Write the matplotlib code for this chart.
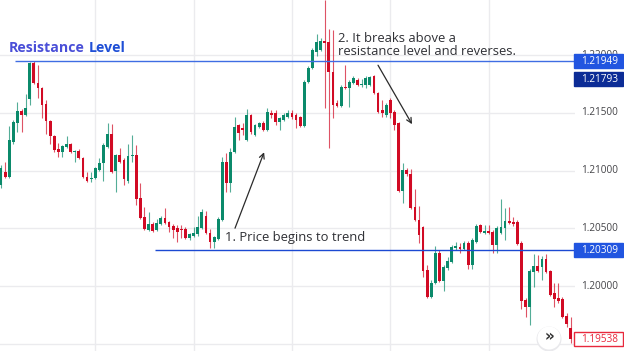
import matplotlib
matplotlib.use("Agg")
import matplotlib.pyplot as plt
from matplotlib.patches import Rectangle, Ellipse


# ============================================================
# Data
# ============================================================

OPEN = [
    1.20873, 1.20986, 1.20943, 1.21246, 1.21411, 1.21515, 1.21480, 1.21619, 1.21935, 1.21757,
    1.21714, 1.21575, 1.21428, 1.21298, 1.21185, 1.21159, 1.21203, 1.21229, 1.21159, 1.21168,
    1.21107, 1.20943, 1.20925, 1.20934, 1.21003, 1.21064, 1.21203, 1.21315, 1.20995, 1.21133,
    1.21090, 1.20908, 1.21125, 1.21133, 1.20761, 1.20596, 1.20483, 1.20535, 1.20483, 1.20535,
    1.20587, 1.20553, 1.20518, 1.20501, 1.20492, 1.20492, 1.20414, 1.20431, 1.20449, 1.20501,
    1.20605, 1.20457, 1.20379, 1.20405, 1.20570, 1.21073, 1.20891, 1.21159, 1.21393, 1.21367,
    1.21263, 1.21480, 1.21307, 1.21376, 1.21411, 1.21350, 1.21497, 1.21497, 1.21419, 1.21437,
    1.21463, 1.21497, 1.21480, 1.21463, 1.21385, 1.21766, 1.21887, 1.22026, 1.22043, 1.22121,
    1.22113, 1.21853, 1.21584, 1.21558, 1.21723, 1.21714, 1.21757, 1.21783, 1.21740, 1.21740,
    1.21740, 1.21818, 1.21671, 1.21523, 1.21480, 1.21610, 1.21506, 1.21411, 1.20821, 1.21003,
    1.20969, 1.20683, 1.20570, 1.20509, 1.20137, 1.19903, 1.20024, 1.20284, 1.20041, 1.20154,
    1.20206, 1.20327, 1.20336, 1.20319, 1.20371, 1.20180, 1.20379, 1.20527, 1.20457, 1.20475,
    1.20466, 1.20353, 1.20457, 1.20501, 1.20561, 1.20553, 1.20553, 1.20371, 1.19877, 1.19816,
    1.20119, 1.20171, 1.20163, 1.20232, 1.20128, 1.19937, 1.19894, 1.19885, 1.19738, 1.19634,
]
HIGH = [
    1.21047, 1.21073, 1.21385, 1.21437, 1.21593, 1.21532, 1.21662, 1.21945, 1.21949, 1.21913,
    1.21723, 1.21610, 1.21437, 1.21307, 1.21237, 1.21220, 1.21298, 1.21237, 1.21177, 1.21185,
    1.21116, 1.20986, 1.20986, 1.21029, 1.21107, 1.21237, 1.21411, 1.21402, 1.21142, 1.21194,
    1.21107, 1.21229, 1.21307, 1.21220, 1.20891, 1.20683, 1.20639, 1.20553, 1.20579, 1.20605,
    1.20674, 1.20561, 1.20535, 1.20527, 1.20527, 1.20509, 1.20457, 1.20509, 1.20605, 1.20665,
    1.20648, 1.20492, 1.20431, 1.20596, 1.21116, 1.21151, 1.21194, 1.21463, 1.21402, 1.21411,
    1.21532, 1.21489, 1.21402, 1.21419, 1.21428, 1.21541, 1.21523, 1.21523, 1.21463, 1.21497,
    1.21523, 1.21523, 1.21497, 1.21471, 1.21783, 1.21905, 1.22061, 1.22182, 1.22147, 1.22480,
    1.22225, 1.22216, 1.21610, 1.21740, 1.21913, 1.21783, 1.21818, 1.21801, 1.21792, 1.21818,
    1.21818, 1.21827, 1.21679, 1.21610, 1.21584, 1.21627, 1.21523, 1.21419, 1.21064, 1.21021,
    1.21012, 1.20839, 1.20691, 1.20518, 1.20180, 1.20050, 1.20345, 1.20310, 1.20180, 1.20249,
    1.20353, 1.20379, 1.20371, 1.20388, 1.20388, 1.20414, 1.20535, 1.20535, 1.20527, 1.20527,
    1.20483, 1.20518, 1.20752, 1.20674, 1.20683, 1.20596, 1.20570, 1.20388, 1.19894, 1.20145,
    1.20275, 1.20267, 1.20258, 1.20275, 1.20137, 1.20024, 1.20024, 1.19903, 1.19764, 1.19729,
]
LOW = [
    1.20847, 1.20934, 1.20934, 1.21229, 1.21333, 1.21333, 1.21471, 1.21567, 1.21749, 1.21627,
    1.21454, 1.21315, 1.21229, 1.21159, 1.21116, 1.21116, 1.21194, 1.21151, 1.21073, 1.21099,
    1.20934, 1.20899, 1.20899, 1.20925, 1.20995, 1.20908, 1.21194, 1.20977, 1.20813, 1.21064,
    1.20873, 1.20891, 1.21073, 1.20700, 1.20579, 1.20483, 1.20475, 1.20466, 1.20475, 1.20527,
    1.20535, 1.20466, 1.20414, 1.20379, 1.20414, 1.20405, 1.20397, 1.20423, 1.20431, 1.20492,
    1.20449, 1.20327, 1.20327, 1.20397, 1.20561, 1.20813, 1.20813, 1.21151, 1.21263, 1.21307,
    1.21255, 1.21315, 1.21298, 1.21367, 1.21341, 1.21341, 1.21454, 1.21393, 1.21350, 1.21428,
    1.21454, 1.21445, 1.21367, 1.21376, 1.21376, 1.21757, 1.21879, 1.21991, 1.22035, 1.21541,
    1.21194, 1.21454, 1.21549, 1.21549, 1.21705, 1.21549, 1.21749, 1.21731, 1.21723, 1.21714,
    1.21731, 1.21662, 1.21497, 1.21463, 1.21463, 1.21454, 1.21350, 1.20813, 1.20717, 1.20951,
    1.20665, 1.20561, 1.20371, 1.20076, 1.19894, 1.19894, 1.20015, 1.20033, 1.19955, 1.20137,
    1.20197, 1.20310, 1.20284, 1.20310, 1.20145, 1.20145, 1.20371, 1.20457, 1.20449, 1.20449,
    1.20284, 1.20284, 1.20449, 1.20397, 1.20535, 1.20518, 1.20353, 1.19799, 1.19729, 1.19660,
    1.19989, 1.20119, 1.20050, 1.20111, 1.19911, 1.19816, 1.19851, 1.19721, 1.19643, 1.19504,
]
CLOSE = [
    1.21021, 1.20943, 1.21263, 1.21419, 1.21515, 1.21480, 1.21541, 1.21930, 1.21757, 1.21714,
    1.21567, 1.21428, 1.21298, 1.21177, 1.21159, 1.21211, 1.21229, 1.21159, 1.21168, 1.21107,
    1.20943, 1.20908, 1.20934, 1.21021, 1.21064, 1.21220, 1.21315, 1.20986, 1.21133, 1.21073,
    1.20925, 1.21125, 1.21133, 1.20752, 1.20587, 1.20492, 1.20535, 1.20475, 1.20544, 1.20587,
    1.20544, 1.20509, 1.20483, 1.20466, 1.20483, 1.20414, 1.20449, 1.20457, 1.20509, 1.20639,
    1.20457, 1.20379, 1.20423, 1.20579, 1.21073, 1.20891, 1.21159, 1.21376, 1.21324, 1.21350,
    1.21480, 1.21333, 1.21393, 1.21411, 1.21350, 1.21506, 1.21480, 1.21419, 1.21454, 1.21480,
    1.21497, 1.21463, 1.21437, 1.21385, 1.21766, 1.21887, 1.22043, 1.22113, 1.22121, 1.22104,
    1.21853, 1.21567, 1.21558, 1.21723, 1.21714, 1.21766, 1.21801, 1.21740, 1.21749, 1.21801,
    1.21809, 1.21671, 1.21506, 1.21497, 1.21567, 1.21497, 1.21393, 1.20821, 1.21003, 1.20969,
    1.20674, 1.20570, 1.20440, 1.20128, 1.19903, 1.20024, 1.20284, 1.20041, 1.20163, 1.20215,
    1.20336, 1.20345, 1.20319, 1.20371, 1.20180, 1.20397, 1.20518, 1.20466, 1.20475, 1.20457,
    1.20353, 1.20501, 1.20509, 1.20561, 1.20544, 1.20535, 1.20362, 1.19868, 1.19816, 1.20128,
    1.20171, 1.20128, 1.20232, 1.20119, 1.19920, 1.19885, 1.19868, 1.19729, 1.19669, 1.19538,
]

PRICE_TICKS = [1.200, 1.205, 1.210, 1.215, 1.220]
PRICE_TICK_LABELS = ["1.20000", "1.20500", "1.21000", "1.21500", "1.22000"]
GRID_PRICES = [1.195, 1.200, 1.205, 1.210, 1.215, 1.220]
TIME_GRID_BARS = [23, 47, 71, 95, 119]

RESISTANCE = 1.21949
RESISTANCE_START_BAR = 3.4
SUPPORT = 1.20309
SUPPORT_START_BAR = 37.6
MARKER_PRICE = 1.21793

TITLE_WORDS = ["Resistance", "Level"]
TITLE_BARS = [1.8, 21.3]
TITLE_PRICE = 1.22029

NOTE_1 = "1. Price begins to trend"
NOTE_1_POS = (54.7, 1.20391)
NOTE_2_LINES = ["2. It breaks above a", "resistance level and reverses."]
NOTE_2_BAR = 82.2
NOTE_2_PRICES = [1.22115, 1.21999]

ARROW_1 = ((57.1, 1.20501), (64.2, 1.21159))
ARROW_2 = ((92.0, 1.21913), (100.3, 1.21402))

# ============================================================
# Style
# ============================================================

UP = "#0b8a6b"
DOWN = "#d10a24"
GRID = "#ebebee"
TEXT = "#2f3035"
AXIS_TEXT = "#444448"
RES_BLUE = "#3f6de3"
SUP_BLUE = "#1b49d2"
LABEL_BLUE = "#2155e0"
LABEL_NAVY = "#0c2c96"

W_PX, H_PX = 624, 351
PLOT_W_PX = 575

Y_MIN, Y_MAX = 1.19437, 1.22478
X_MIN, X_MAX = -0.25, 140.07


def main() -> None:
    fig = plt.figure(figsize=(W_PX / 100, H_PX / 100), dpi=100)
    fig.patch.set_facecolor("white")

    ax = fig.add_axes([0, 0, PLOT_W_PX / W_PX, 1])
    ax.set_xlim(X_MIN, X_MAX)
    ax.set_ylim(Y_MIN, Y_MAX)
    ax.set_axis_off()

    for p in GRID_PRICES:
        ax.axhline(p, color=GRID, lw=1.0, zorder=0)
    for b in TIME_GRID_BARS:
        ax.axvline(b, color=GRID, lw=1.0, zorder=0)

    # candles
    bars = list(range(len(OPEN)))
    colors = [UP if c >= o else DOWN for o, c in zip(OPEN, CLOSE)]
    ax.vlines(bars, LOW, HIGH, colors=colors, lw=0.8, alpha=0.7, zorder=2)
    bottoms = [min(o, c) for o, c in zip(OPEN, CLOSE)]
    heights = [max(abs(c - o), 0.00004) for o, c in zip(OPEN, CLOSE)]
    ax.bar(bars, heights, bottom=bottoms, width=0.68, color=colors,
           linewidth=0, zorder=3)

    # horizontal levels
    ax.hlines(RESISTANCE, RESISTANCE_START_BAR, X_MAX, color=RES_BLUE, lw=1.0, zorder=4)
    ax.hlines(SUPPORT, SUPPORT_START_BAR, X_MAX, color=SUP_BLUE, lw=1.0, zorder=4)

    # title, two colours
    ax.text(TITLE_BARS[0], TITLE_PRICE, TITLE_WORDS[0], color="#4a4fd8",
            fontsize=10.2, fontweight="bold", family="Open Sans",
            va="baseline", ha="left", zorder=6)
    ax.text(TITLE_BARS[1], TITLE_PRICE, TITLE_WORDS[1], color="#1f4fd6",
            fontsize=10.2, fontweight="bold", family="Open Sans",
            va="baseline", ha="left", zorder=6)

    # notes
    ax.text(*NOTE_1_POS, NOTE_1, color=TEXT, fontsize=9.4, family="Open Sans",
            va="baseline", ha="left", zorder=6)
    for line, p in zip(NOTE_2_LINES, NOTE_2_PRICES):
        ax.text(NOTE_2_BAR, p, line, color=TEXT, fontsize=9.4, family="Open Sans",
                va="baseline", ha="left", zorder=6)

    for start, end in (ARROW_1, ARROW_2):
        ax.annotate("", xy=end, xytext=start,
                    arrowprops=dict(arrowstyle="->", color="#2a2a2a", lw=0.9,
                                    mutation_scale=9, shrinkA=0, shrinkB=0),
                    zorder=6)

    # "scroll to latest" button
    cx, cy = 549 / W_PX, 1 - 338 / H_PX
    fig.add_artist(Ellipse((cx, cy - 1 / H_PX), 25 / W_PX, 25 / H_PX,
                           transform=fig.transFigure, fc="#e9e9ec", ec="none", zorder=7))
    fig.add_artist(Ellipse((cx, cy), 23 / W_PX, 23 / H_PX,
                           transform=fig.transFigure, fc="white", ec="none", zorder=8))
    fig.text(cx, cy + 1 / H_PX, "»", color="#333333", fontsize=11, fontweight="bold",
             ha="center", va="center", zorder=9)

    # price scale
    ax2 = fig.add_axes([PLOT_W_PX / W_PX, 0, 1 - PLOT_W_PX / W_PX, 1])
    ax2.set_xlim(0, 1)
    ax2.set_ylim(Y_MIN, Y_MAX)
    ax2.set_axis_off()

    box_h = 0.00121
    # the 1.22000 tick sits mostly behind the resistance label: keep only
    # the part that shows above it
    visible = Rectangle((-0.1, RESISTANCE + box_h / 2), 1.2, 0.01,
                        transform=ax2.transData)
    for p, lab in zip(PRICE_TICKS, PRICE_TICK_LABELS):
        t = ax2.text(0.51, p, lab, color=AXIS_TEXT, fontsize=7.2, family="Open Sans",
                     ha="center", va="center", zorder=1)
        if abs(p - RESISTANCE) < box_h:
            t.set_clip_path(visible)

    boxes = [
        (RESISTANCE, LABEL_BLUE, "white", LABEL_BLUE),
        (MARKER_PRICE, LABEL_NAVY, "white", LABEL_NAVY),
        (SUPPORT, LABEL_BLUE, "white", LABEL_BLUE),
        (CLOSE[-1], "white", "#e8283c", "#e8283c"),
    ]
    for p, fc, tc, ec in boxes:
        ax2.add_patch(Rectangle((-0.02, p - box_h / 2), 1.0, box_h, fc=fc, ec=ec,
                                lw=1.0, zorder=3, clip_on=False))
        ax2.text(0.51, p, f"{p:.5f}", color=tc, fontsize=7.2, family="Open Sans",
                 ha="center", va="center", zorder=4)

    fig.savefig("out.png", dpi=100, facecolor="white")
    plt.close(fig)


if __name__ == "__main__":
    main()
